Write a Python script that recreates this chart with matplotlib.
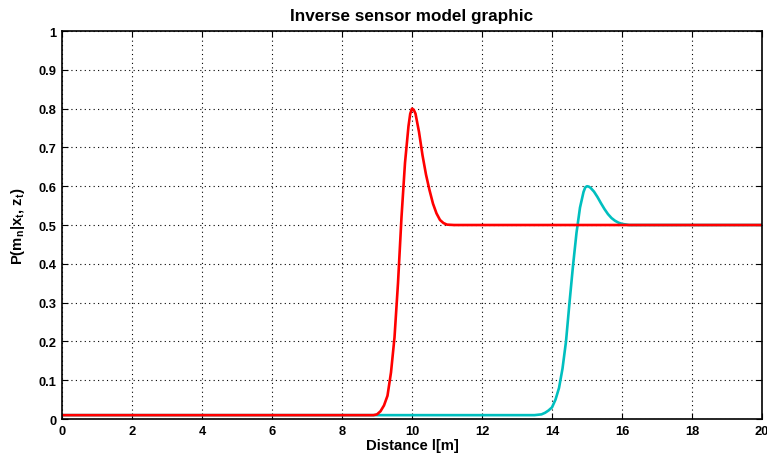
import numpy as np
import matplotlib.pyplot as plt
from matplotlib.ticker import FixedLocator

plt.rcParams['font.family'] = ['Liberation Sans', 'DejaVu Sans']
plt.rcParams['font.weight'] = 'bold'
plt.rcParams['mathtext.default'] = 'regular'

# curva roja (sensor a 10 m)
x_red = [0, 8.9, 9.0, 9.1, 9.2, 9.3, 9.4, 9.5, 9.6, 9.7, 9.8, 9.9, 9.95, 10.0, 10.05,
         10.1, 10.2, 10.3, 10.4, 10.5, 10.6, 10.7, 10.8, 10.9, 11.0, 11.2, 20]
y_red = [0.01, 0.01, 0.012, 0.02, 0.035, 0.06, 0.12, 0.21, 0.35, 0.52, 0.66, 0.755, 0.787,
         0.80, 0.797, 0.787, 0.74, 0.68, 0.63, 0.59, 0.555, 0.53, 0.513, 0.505, 0.501, 0.5, 0.5]

# curva cian (sensor a 15 m)
x_cyan = [0, 13.5, 13.7, 13.8, 13.9, 14.0, 14.1, 14.2, 14.3, 14.4, 14.5, 14.6, 14.7,
          14.8, 14.9, 14.95, 15.0, 15.05, 15.1, 15.2, 15.3, 15.4, 15.5, 15.6, 15.7, 15.8,
          15.9, 16.0, 16.2, 16.4, 20]
y_cyan = [0.01, 0.01, 0.012, 0.016, 0.022, 0.03, 0.05, 0.08, 0.13, 0.2, 0.3, 0.395, 0.48,
          0.545, 0.585, 0.597, 0.60, 0.599, 0.596, 0.586, 0.572, 0.556, 0.541, 0.528, 0.518,
          0.511, 0.506, 0.503, 0.5, 0.5, 0.5]

x_ticks = np.arange(0, 21, 2)
y_ticks = np.round(np.arange(0, 1.01, 0.1), 1)
y_labels = ['0'] + ['%.1f' % v for v in y_ticks[1:-1]] + ['1']

fig = plt.figure(figsize=(7.67, 4.56), dpi=100)
ax = fig.add_axes([0.0808, 0.0789, 0.9127, 0.8509])

ax.plot(x_cyan, y_cyan, color='#00BFBF', linewidth=1.9)
ax.plot(x_red, y_red, color='#FF0000', linewidth=1.9)

ax.set_xlim(0, 20)
ax.set_ylim(0, 1)
ax.xaxis.set_major_locator(FixedLocator(x_ticks))
ax.yaxis.set_major_locator(FixedLocator(y_ticks))
ax.set_xticklabels([str(v) for v in x_ticks])
ax.set_yticklabels(y_labels)
ax.tick_params(direction='in', length=4, width=0.8, labelsize=9.3, pad=4,
               top=True, right=True)
for s in ax.spines.values():
    s.set_linewidth(1.2)
ax.grid(True, color='black', linestyle=(0, (1, 3)), linewidth=0.8)

ax.set_title('Inverse sensor model graphic', fontsize=12.3, fontweight='bold', pad=8)
ax.set_xlabel('Distance l[m]', fontsize=10.7, fontweight='bold', labelpad=1)
ax.set_ylabel(r'P(m$_n$|x$_t$, z$_t$)', fontsize=10.7, fontweight='bold', labelpad=8)

fig.savefig('out.png', dpi=100)
